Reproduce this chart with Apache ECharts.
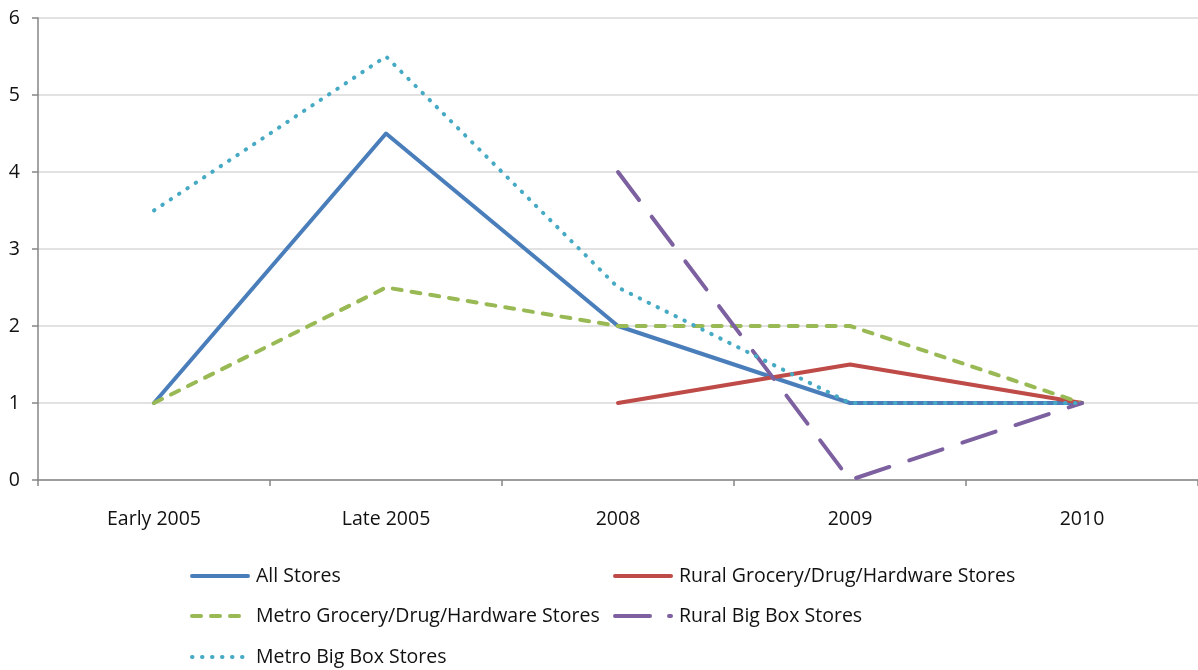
<!DOCTYPE html>
<html>
<head>
<meta charset="utf-8">
<script src="https://cdn.jsdelivr.net/npm/echarts@6/dist/echarts.min.js"></script>
<style>
  html, body { margin: 0; padding: 0; background: #ffffff; }
  #chart { width: 1198px; height: 670px; }
</style>
</head>
<body>
<div id="chart"></div>
<script>
// Categories along the horizontal axis
const periods = ['Early 2005', 'Late 2005', '2008', '2009', '2010'];

// Series values (null = no observation for that period)
const allStores        = [1, 4.5, 2, 1, 1];
const ruralGroceryDrug = [null, null, 1, 1.5, 1];
const metroGroceryDrug = [1, 2.5, 2, 2, 1];
const ruralBigBox      = [null, null, 4, 0, 1];
const metroBigBox      = [3.5, 5.5, 2.5, 1, 1];

// Value-axis range
const yMin = 0, yMax = 6, yStep = 1;

const FONT = '"Open Sans", Lato, sans-serif';
const TEXT_SIZE = 19.5;
const TEXT_COLOR = '#111111';
const chart = echarts.init(document.getElementById('chart'), null, { renderer: 'canvas' });

// Stroke styles per series (keyDash: pattern used for the short legend sample)
const styles = {
  'All Stores':                         { color: '#4a7ebb', dash: 'solid' },
  'Rural Grocery/Drug/Hardware Stores': { color: '#be4b48', dash: 'solid' },
  'Metro Grocery/Drug/Hardware Stores': { color: '#98b954', dash: [9, 10] },
  'Rural Big Box Stores':               { color: '#7d60a0', dash: [35, 21], keyDash: [35, 19] },
  'Metro Big Box Stores':               { color: '#46aac5', dash: [0.5, 9.5] }
};

function lineSeries(name, data) {
  const s = styles[name];
  return {
    name: name,
    type: 'line',
    data: data,
    symbol: 'none',
    connectNulls: false,
    lineStyle: { color: s.color, width: 4, type: s.dash, cap: 'round', join: 'round' },
    itemStyle: { color: s.color },
    emphasis: { disabled: true },
    animation: false
  };
}

function legendAt(name, left, top) {
  const s = styles[name];
  return {
    data: [{ name: name, icon: 'inherit' }],
    left: left,
    top: top,
    itemWidth: 56,
    itemHeight: 20,
    itemGap: 8,
    padding: 0,
    selectedMode: false,
    itemStyle: { opacity: 0 },
    lineStyle: { color: s.color, width: 4, type: s.keyDash || s.dash, dashOffset: 0, cap: 'round' },
    textStyle: { fontFamily: FONT, fontSize: TEXT_SIZE, color: TEXT_COLOR, padding: [0, 0, 0, 3] }
  };
}

chart.setOption({
  backgroundColor: '#ffffff',
  animation: false,
  grid: { left: 38, top: 18, width: 1166, height: 462, containLabel: false },
  xAxis: {
    type: 'category',
    data: periods,
    boundaryGap: true,
    axisLine: { show: true, lineStyle: { color: '#868686', width: 1.5 } },
    axisTick: { show: true, length: 6, lineStyle: { color: '#868686', width: 1.5 } },
    axisLabel: { fontFamily: FONT, fontSize: TEXT_SIZE, color: TEXT_COLOR, margin: 29 },
    splitLine: { show: false }
  },
  yAxis: {
    type: 'value',
    min: yMin,
    max: yMax,
    interval: yStep,
    axisLine: { show: true, lineStyle: { color: '#868686', width: 1.5 } },
    axisTick: { show: true, length: 6, lineStyle: { color: '#868686', width: 1.5 } },
    axisLabel: { fontFamily: FONT, fontSize: TEXT_SIZE, color: TEXT_COLOR, margin: 18 },
    splitLine: { show: true, lineStyle: { color: '#d9d9d9', width: 1.5 } }
  },
  legend: [
    legendAt('All Stores', 190, 566),
    legendAt('Rural Grocery/Drug/Hardware Stores', 613, 566),
    legendAt('Metro Grocery/Drug/Hardware Stores', 190, 606),
    legendAt('Rural Big Box Stores', 613, 606),
    legendAt('Metro Big Box Stores', 190, 647)
  ],
  series: [
    lineSeries('All Stores', allStores),
    lineSeries('Rural Grocery/Drug/Hardware Stores', ruralGroceryDrug),
    lineSeries('Metro Grocery/Drug/Hardware Stores', metroGroceryDrug),
    lineSeries('Rural Big Box Stores', ruralBigBox),
    lineSeries('Metro Big Box Stores', metroBigBox)
  ]
});
</script>
</body>
</html>
